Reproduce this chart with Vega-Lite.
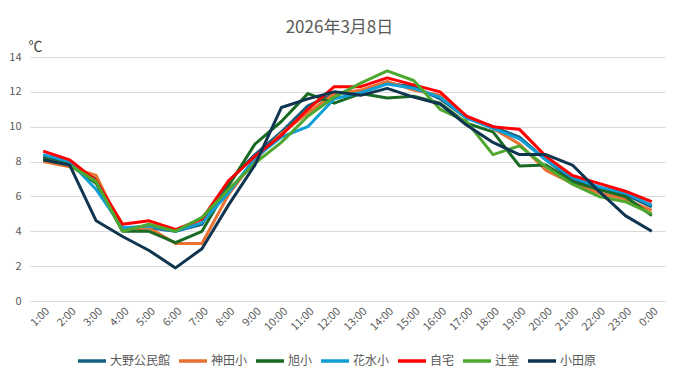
{
  "$schema": "https://vega.github.io/schema/vega-lite/v6.json",
  "autosize": {"type": "none"},
  "width": 635,
  "height": 244,
  "padding": {"left": 30, "top": 57, "right": 16, "bottom": 78},
  "background": "white",
  "config": {
    "view": {"stroke": null},
    "font": "Noto Sans CJK JP",
    "axis": {"labelFont": "Noto Sans CJK JP", "titleFont": "Noto Sans CJK JP"},
    "legend": {"labelFont": "Noto Sans CJK JP"}
  },
  "title": {
    "text": "2026年3月8日",
    "fontSize": 17,
    "fontWeight": "normal",
    "color": "#595959",
    "anchor": "middle",
    "frame": "group",
    "dx": -8,
    "offset": 2
  },
  "datasets": {
    "temps": [
      {"t":"1:00","s":"大野公民館","v":8.3},{"t":"2:00","s":"大野公民館","v":7.9},{"t":"3:00","s":"大野公民館","v":7.0},{"t":"4:00","s":"大野公民館","v":4.1},{"t":"5:00","s":"大野公民館","v":4.2},{"t":"6:00","s":"大野公民館","v":4.0},{"t":"7:00","s":"大野公民館","v":4.4},{"t":"8:00","s":"大野公民館","v":6.85},{"t":"9:00","s":"大野公民館","v":8.4},{"t":"10:00","s":"大野公民館","v":9.7},{"t":"11:00","s":"大野公民館","v":11.2},{"t":"12:00","s":"大野公民館","v":11.9},{"t":"13:00","s":"大野公民館","v":12.0},{"t":"14:00","s":"大野公民館","v":12.5},{"t":"15:00","s":"大野公民館","v":12.3},{"t":"16:00","s":"大野公民館","v":11.6},{"t":"17:00","s":"大野公民館","v":10.5},{"t":"18:00","s":"大野公民館","v":10.0},{"t":"19:00","s":"大野公民館","v":9.4},{"t":"20:00","s":"大野公民館","v":8.1},{"t":"21:00","s":"大野公民館","v":6.95},{"t":"22:00","s":"大野公民館","v":6.45},{"t":"23:00","s":"大野公民館","v":6.1},{"t":"0:00","s":"大野公民館","v":5.4},
      {"t":"1:00","s":"神田小","v":8.0},{"t":"2:00","s":"神田小","v":7.7},{"t":"3:00","s":"神田小","v":7.2},{"t":"4:00","s":"神田小","v":4.1},{"t":"5:00","s":"神田小","v":4.2},{"t":"6:00","s":"神田小","v":3.3},{"t":"7:00","s":"神田小","v":3.3},{"t":"8:00","s":"神田小","v":6.1},{"t":"9:00","s":"神田小","v":8.1},{"t":"10:00","s":"神田小","v":9.6},{"t":"11:00","s":"神田小","v":10.8},{"t":"12:00","s":"神田小","v":11.9},{"t":"13:00","s":"神田小","v":12.1},{"t":"14:00","s":"神田小","v":12.6},{"t":"15:00","s":"神田小","v":12.1},{"t":"16:00","s":"神田小","v":11.8},{"t":"17:00","s":"神田小","v":10.6},{"t":"18:00","s":"神田小","v":9.9},{"t":"19:00","s":"神田小","v":9.0},{"t":"20:00","s":"神田小","v":7.5},{"t":"21:00","s":"神田小","v":6.75},{"t":"22:00","s":"神田小","v":6.2},{"t":"23:00","s":"神田小","v":5.85},{"t":"0:00","s":"神田小","v":5.2},
      {"t":"1:00","s":"旭小","v":8.2},{"t":"2:00","s":"旭小","v":7.8},{"t":"3:00","s":"旭小","v":6.75},{"t":"4:00","s":"旭小","v":4.0},{"t":"5:00","s":"旭小","v":4.0},{"t":"6:00","s":"旭小","v":3.35},{"t":"7:00","s":"旭小","v":4.0},{"t":"8:00","s":"旭小","v":6.6},{"t":"9:00","s":"旭小","v":9.0},{"t":"10:00","s":"旭小","v":10.3},{"t":"11:00","s":"旭小","v":11.9},{"t":"12:00","s":"旭小","v":11.35},{"t":"13:00","s":"旭小","v":11.9},{"t":"14:00","s":"旭小","v":11.65},{"t":"15:00","s":"旭小","v":11.75},{"t":"16:00","s":"旭小","v":11.35},{"t":"17:00","s":"旭小","v":10.2},{"t":"18:00","s":"旭小","v":9.7},{"t":"19:00","s":"旭小","v":7.75},{"t":"20:00","s":"旭小","v":7.8},{"t":"21:00","s":"旭小","v":6.85},{"t":"22:00","s":"旭小","v":6.4},{"t":"23:00","s":"旭小","v":6.0},{"t":"0:00","s":"旭小","v":4.9},
      {"t":"1:00","s":"花水小","v":8.4},{"t":"2:00","s":"花水小","v":8.0},{"t":"3:00","s":"花水小","v":6.4},{"t":"4:00","s":"花水小","v":4.2},{"t":"5:00","s":"花水小","v":4.3},{"t":"6:00","s":"花水小","v":4.0},{"t":"7:00","s":"花水小","v":4.5},{"t":"8:00","s":"花水小","v":6.2},{"t":"9:00","s":"花水小","v":8.2},{"t":"10:00","s":"花水小","v":9.4},{"t":"11:00","s":"花水小","v":10.0},{"t":"12:00","s":"花水小","v":11.6},{"t":"13:00","s":"花水小","v":11.95},{"t":"14:00","s":"花水小","v":12.45},{"t":"15:00","s":"花水小","v":12.2},{"t":"16:00","s":"花水小","v":11.7},{"t":"17:00","s":"花水小","v":10.5},{"t":"18:00","s":"花水小","v":9.9},{"t":"19:00","s":"花水小","v":9.3},{"t":"20:00","s":"花水小","v":8.1},{"t":"21:00","s":"花水小","v":7.1},{"t":"22:00","s":"花水小","v":6.55},{"t":"23:00","s":"花水小","v":6.2},{"t":"0:00","s":"花水小","v":5.5},
      {"t":"1:00","s":"自宅","v":8.6},{"t":"2:00","s":"自宅","v":8.1},{"t":"3:00","s":"自宅","v":6.9},{"t":"4:00","s":"自宅","v":4.4},{"t":"5:00","s":"自宅","v":4.6},{"t":"6:00","s":"自宅","v":4.1},{"t":"7:00","s":"自宅","v":4.7},{"t":"8:00","s":"自宅","v":6.9},{"t":"9:00","s":"自宅","v":8.3},{"t":"10:00","s":"自宅","v":9.5},{"t":"11:00","s":"自宅","v":11.0},{"t":"12:00","s":"自宅","v":12.3},{"t":"13:00","s":"自宅","v":12.3},{"t":"14:00","s":"自宅","v":12.8},{"t":"15:00","s":"自宅","v":12.4},{"t":"16:00","s":"自宅","v":12.0},{"t":"17:00","s":"自宅","v":10.6},{"t":"18:00","s":"自宅","v":10.0},{"t":"19:00","s":"自宅","v":9.85},{"t":"20:00","s":"自宅","v":8.3},{"t":"21:00","s":"自宅","v":7.2},{"t":"22:00","s":"自宅","v":6.75},{"t":"23:00","s":"自宅","v":6.3},{"t":"0:00","s":"自宅","v":5.7},
      {"t":"1:00","s":"辻堂","v":8.1},{"t":"2:00","s":"辻堂","v":7.8},{"t":"3:00","s":"辻堂","v":6.85},{"t":"4:00","s":"辻堂","v":4.0},{"t":"5:00","s":"辻堂","v":4.4},{"t":"6:00","s":"辻堂","v":4.0},{"t":"7:00","s":"辻堂","v":4.8},{"t":"8:00","s":"辻堂","v":6.4},{"t":"9:00","s":"辻堂","v":7.9},{"t":"10:00","s":"辻堂","v":9.1},{"t":"11:00","s":"辻堂","v":10.6},{"t":"12:00","s":"辻堂","v":11.7},{"t":"13:00","s":"辻堂","v":12.5},{"t":"14:00","s":"辻堂","v":13.2},{"t":"15:00","s":"辻堂","v":12.65},{"t":"16:00","s":"辻堂","v":11.0},{"t":"17:00","s":"辻堂","v":10.3},{"t":"18:00","s":"辻堂","v":8.4},{"t":"19:00","s":"辻堂","v":8.9},{"t":"20:00","s":"辻堂","v":7.7},{"t":"21:00","s":"辻堂","v":6.7},{"t":"22:00","s":"辻堂","v":6.0},{"t":"23:00","s":"辻堂","v":5.7},{"t":"0:00","s":"辻堂","v":5.0},
      {"t":"1:00","s":"小田原","v":8.1},{"t":"2:00","s":"小田原","v":7.8},{"t":"3:00","s":"小田原","v":4.6},{"t":"4:00","s":"小田原","v":3.7},{"t":"5:00","s":"小田原","v":2.9},{"t":"6:00","s":"小田原","v":1.9},{"t":"7:00","s":"小田原","v":3.0},{"t":"8:00","s":"小田原","v":5.5},{"t":"9:00","s":"小田原","v":7.8},{"t":"10:00","s":"小田原","v":11.1},{"t":"11:00","s":"小田原","v":11.6},{"t":"12:00","s":"小田原","v":12.0},{"t":"13:00","s":"小田原","v":11.8},{"t":"14:00","s":"小田原","v":12.2},{"t":"15:00","s":"小田原","v":11.7},{"t":"16:00","s":"小田原","v":11.3},{"t":"17:00","s":"小田原","v":10.1},{"t":"18:00","s":"小田原","v":9.1},{"t":"19:00","s":"小田原","v":8.4},{"t":"20:00","s":"小田原","v":8.4},{"t":"21:00","s":"小田原","v":7.8},{"t":"22:00","s":"小田原","v":6.3},{"t":"23:00","s":"小田原","v":4.9},{"t":"0:00","s":"小田原","v":4.0}
    ]
  },
  "data": {"name": "temps"},
  "mark": {"type": "line", "strokeWidth": 3, "strokeJoin": "round"},
  "encoding": {
    "x": {
      "field": "t",
      "type": "ordinal",
      "sort": null,
      "scale": {
        "type": "point",
        "padding": 0.5,
        "domain": ["1:00","2:00","3:00","4:00","5:00","6:00","7:00","8:00","9:00","10:00","11:00","12:00","13:00","14:00","15:00","16:00","17:00","18:00","19:00","20:00","21:00","22:00","23:00","0:00"]
      },
      "axis": {
        "title": null,
        "labelAngle": -45,
        "labelFontSize": 11,
        "labelColor": "#595959",
        "labelPadding": 4,
        "ticks": false,
        "domain": true,
        "domainColor": "#D9D9D9",
        "grid": false
      }
    },
    "y": {
      "field": "v",
      "type": "quantitative",
      "scale": {"domain": [0, 14], "nice": false, "zero": true},
      "axis": {
        "values": [0, 2, 4, 6, 8, 10, 12, 14],
        "title": "℃",
        "titleAngle": 0,
        "titleAlign": "left",
        "titleBaseline": "bottom",
        "titleX": -2,
        "titleY": -4,
        "titleFontSize": 14,
        "titleFontWeight": "normal",
        "titleColor": "#404040",
        "labelFontSize": 11,
        "labelColor": "#595959",
        "labelPadding": 9,
        "ticks": false,
        "domain": false,
        "grid": true,
        "gridColor": "#D9D9D9",
        "gridWidth": 1
      }
    },
    "color": {
      "field": "s",
      "type": "nominal",
      "sort": null,
      "scale": {
        "domain": ["大野公民館","神田小","旭小","花水小","自宅","辻堂","小田原"],
        "range": ["#156082","#E97132","#196B24","#0F9ED5","#FF0000","#4EA72E","#0F3550"]
      },
      "legend": {
        "title": null,
        "orient": "none",
        "direction": "horizontal",
        "legendX": 46,
        "legendY": 288,
        "padding": 0,
        "gridAlign": "none",
        "symbolType": "stroke",
        "symbolSize": 784,
        "symbolStrokeWidth": 3.5,
        "labelFontSize": 12,
        "labelColor": "#595959",
        "labelOffset": 2,
        "columnPadding": 1
      }
    }
  }
}
